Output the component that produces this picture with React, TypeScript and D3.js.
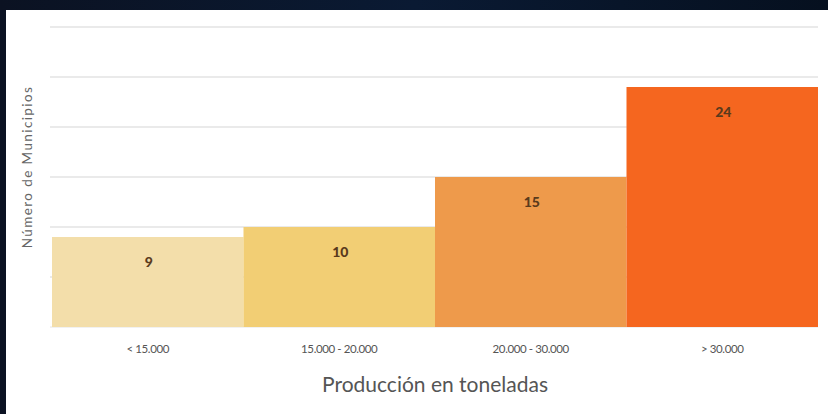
import React from 'react';
import * as d3 from 'd3';

// chart values
const categories = ['< 15.000', '15.000 - 20.000', '20.000 - 30.000', '> 30.000'];
const municipios = [9, 10, 15, 24];
const barColors = ['#F3DEAA', '#F2CE74', '#EE9A4B', '#F5661F'];
const gridTicks = [5, 10, 15, 20, 25, 30];

const W = 828;
const H = 414;

const App = () => {
  const x = d3.scaleBand<string>().domain(categories).range([52, 818]).padding(0);
  const y = d3.scaleLinear().domain([0, 30]).range([327, 27]);

  const font = 'Lato, "Open Sans", sans-serif';

  return (
    <svg
      width={W}
      height={H}
      style={{ position: 'absolute', left: 0, top: 0, display: 'block' }}
    >
      <defs>
        <linearGradient id="bg" x1="0" y1="0" x2="1" y2="0">
          <stop offset="0" stopColor="#0b1222" />
          <stop offset="0.5" stopColor="#0a1a33" />
          <stop offset="1" stopColor="#06101f" />
        </linearGradient>
      </defs>
      {/* dark frame + white panel */}
      <rect x={0} y={0} width={W} height={H} fill="url(#bg)" />
      <rect x={6} y={10} width={W - 6} height={H - 10} fill="#ffffff" />

      {/* grid lines */}
      {gridTicks.map((t) => (
        <line
          key={t}
          x1={50}
          x2={818}
          y1={y(t)}
          y2={y(t)}
          stroke="#d6d6d6"
          strokeWidth={1.2}
        />
      ))}
      <line x1={50} x2={818} y1={y(0)} y2={y(0)} stroke="#e4e4e4" strokeWidth={1} />

      {/* bars */}
      {categories.map((c, i) => (
        <rect
          key={c}
          x={x(c)}
          y={y(municipios[i])}
          width={x.bandwidth()}
          height={y(0) - y(municipios[i])}
          fill={barColors[i]}
        />
      ))}

      {/* value labels */}
      {categories.map((c, i) => (
        <text
          key={c}
          x={(x(c) as number) + x.bandwidth() / 2 + 1}
          y={y(municipios[i]) + 30}
          textAnchor="middle"
          fontFamily={font}
          fontWeight={900}
          fontSize={14}
          fill="#5a3a1c"
        >
          {municipios[i]}
        </text>
      ))}

      {/* category labels */}
      {categories.map((c) => (
        <text
          key={c}
          x={(x(c) as number) + x.bandwidth() / 2}
          y={353}
          textAnchor="middle"
          fontFamily={font}
          fontSize={11.5}
          letterSpacing={-0.4}
          fill="#555555"
        >
          {c}
        </text>
      ))}

      {/* axis titles */}
      <text
        x={435}
        y={392}
        textAnchor="middle"
        fontFamily={font}
        fontSize={21}
        fill="#555555"
      >
        Producción en toneladas
      </text>
      <text
        transform={`translate(32,${167}) rotate(-90)`}
        textAnchor="middle"
        fontFamily={font}
        fontSize={13.5}
        letterSpacing={1.4}
        fill="#666666"
      >
        Número de Municipios
      </text>
    </svg>
  );
};

export default App;
